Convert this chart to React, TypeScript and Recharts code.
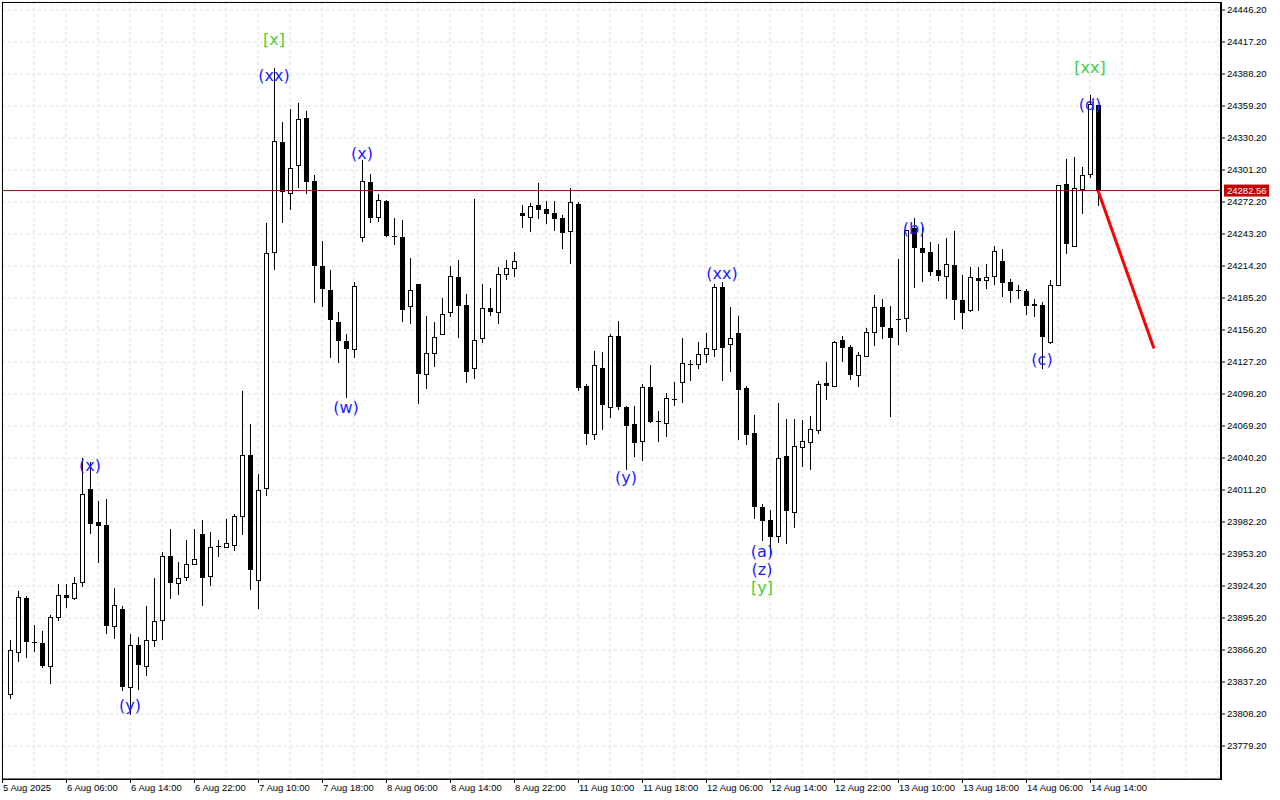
import React from "react";
import {
  ComposedChart,
  Bar,
  Line,
  Scatter,
  XAxis,
  YAxis,
  CartesianGrid,
  ReferenceLine,
} from "recharts";

// H1 candles, one slot per hour, first candle sits in slot 1
const opens = [
  23826.3, 23864.4, 23913.3, 23873.0, 23872.5, 23851.7, 23896.1, 23916.0, 23913.3, 23927.8,
  24012.1, 23982.2, 23979.5, 23888.0, 23903.4, 23832.7, 23870.7, 23851.7, 23875.3, 23893.4,
  23951.4, 23926.9, 23932.3, 23944.1, 23971.3, 23933.3, 23960.0, 23959.5, 23961.4, 23987.6,
  24042.9, 23929.6, 24013.0, 24226.9, 24327.0, 24280.4, 24305.7, 24348.3, 24291.2, 24214.2,
  24192.4, 24163.4, 24146.2, 24139.0, 24240.9, 24290.3, 24258.6, 24273.1, 24241.4, 24240.5,
  24178.0, 24197.9, 24116.3, 24135.4, 24152.6, 24172.5, 24204.2, 24178.9, 24121.8, 24149.0,
  24176.1, 24172.5, 24207.0, 24212.4, 24262.2, 24258.6, 24269.5, 24265.9, 24262.2, 24257.7,
  24245.9, 24270.4, 24105.5, 24062.0, 24121.8, 24086.4, 24150.8, 24086.4, 24071.0, 24055.6,
  24104.5, 24073.3, 24071.9, 24094.1, 24109.1, 24125.4, 24125.4, 24134.5, 24139.0, 24195.2,
  24143.5, 24153.5, 24103.6, 24062.9, 23995.8, 23984.0, 23969.5, 24042.0, 23991.3, 24050.2,
  24054.7, 24065.6, 24108.2, 24105.5, 24147.1, 24140.8, 24115.4, 24132.6, 24154.4, 24177.0,
  24158.0, 24166.2, 24167.1, 24248.6, 24230.5, 24226.9, 24210.6, 24205.1, 24215.1, 24183.4,
  24174.3, 24203.3, 24201.5, 24205.1, 24218.7, 24199.7, 24192.4, 24191.5, 24179.8, 24178.9,
  24145.3, 24197.0, 24288.5, 24232.3, 24284.0, 24297.6, 24360.1,
];
const highs = [
  23875.3, 23919.7, 23915.1, 23888.9, 23883.4, 23897.9, 23926.0, 23926.0, 23932.3, 24040.2,
  24036.6, 24001.2, 24003.0, 23922.4, 23906.1, 23880.7, 23878.0, 23906.1, 23931.5, 23955.0,
  23975.9, 23945.9, 23965.9, 23975.9, 23984.0, 23973.1, 23965.9, 23984.9, 23989.5, 24100.9,
  24071.0, 24025.7, 24253.2, 24393.6, 24344.7, 24356.8, 24362.3, 24354.7, 24296.7, 24236.9,
  24210.6, 24172.5, 24152.6, 24199.7, 24310.3, 24297.6, 24279.4, 24274.0, 24257.7, 24255.9,
  24221.4, 24198.2, 24168.9, 24163.4, 24185.2, 24214.2, 24219.6, 24188.8, 24274.9, 24197.9,
  24194.3, 24213.3, 24219.6, 24226.9, 24269.5, 24271.3, 24289.4, 24273.1, 24273.1, 24260.4,
  24284.9, 24272.2, 24107.3, 24137.2, 24136.3, 24152.6, 24164.4, 24087.3, 24087.3, 24107.3,
  24124.5, 24082.8, 24099.1, 24109.1, 24149.0, 24129.0, 24145.3, 24153.5, 24197.9, 24199.7,
  24177.0, 24168.9, 24105.5, 24079.2, 23998.5, 23993.1, 24090.0, 24075.5, 24075.5, 24074.6,
  24078.3, 24110.0, 24127.2, 24146.2, 24150.8, 24142.6, 24136.3, 24158.0, 24187.9, 24184.3,
  24178.0, 24220.5, 24247.2, 24257.7, 24249.5, 24236.0, 24234.1, 24239.6, 24245.9, 24206.0,
  24213.3, 24213.3, 24216.0, 24232.3, 24229.6, 24202.4, 24197.0, 24193.4, 24184.3, 24181.6,
  24201.5, 24287.9, 24311.2, 24313.0, 24303.9, 24369.2, 24360.4,
];
const lows = [
  23822.7, 23856.2, 23859.9, 23865.3, 23851.0, 23836.3, 23893.4, 23905.2, 23912.4, 23924.2,
  23972.2, 23945.9, 23881.6, 23877.1, 23830.0, 23808.2, 23830.9, 23843.5, 23869.8, 23876.2,
  23913.3, 23917.0, 23929.6, 23943.8, 23907.0, 23925.1, 23951.4, 23959.3, 23956.8, 23971.3,
  23921.5, 23904.3, 24006.7, 24211.5, 24254.5, 24265.9, 24285.8, 24280.4, 24182.0, 24178.0,
  24131.7, 24127.2, 24095.5, 24131.7, 24236.9, 24254.1, 24255.0, 24241.0, 24234.1, 24164.4,
  24162.5, 24090.0, 24103.6, 24123.6, 24152.3, 24168.9, 24149.9, 24109.1, 24112.7, 24145.3,
  24169.8, 24162.5, 24202.4, 24205.1, 24249.5, 24245.9, 24257.7, 24253.2, 24246.8, 24230.5,
  24216.9, 24101.8, 24052.9, 24057.4, 24066.5, 24077.4, 24084.6, 24030.2, 24042.0, 24038.4,
  24072.5, 24055.6, 24060.1, 24088.2, 24091.0, 24110.9, 24121.8, 24127.2, 24132.6, 24110.9,
  24119.0, 24057.4, 24052.9, 23985.8, 23965.9, 23951.4, 23964.1, 23963.2, 23977.7, 24033.0,
  24030.2, 24062.9, 24093.7, 24105.2, 24128.1, 24111.8, 24105.5, 24132.3, 24142.6, 24149.0,
  24078.3, 24143.5, 24155.3, 24195.2, 24200.6, 24206.0, 24201.5, 24185.2, 24166.2, 24158.0,
  24173.4, 24174.3, 24194.3, 24197.9, 24187.0, 24181.6, 24185.2, 24170.7, 24168.9, 24121.8,
  24144.4, 24196.7, 24226.0, 24232.0, 24262.2, 24294.9, 24269.5,
];
const closes = [
  23866.2, 23914.2, 23873.5, 23872.1, 23851.7, 23896.1, 23916.0, 23913.3, 23926.9, 24007.6,
  23980.4, 23979.0, 23888.4, 23907.0, 23832.7, 23870.7, 23852.6, 23875.3, 23892.5, 23951.4,
  23926.9, 23931.5, 23944.1, 23948.7, 23931.5, 23959.5, 23959.1, 23963.2, 23987.6, 24042.9,
  23938.7, 24011.2, 24226.0, 24327.5, 24281.3, 24303.0, 24347.4, 24290.3, 24214.2, 24193.4,
  24165.3, 24146.2, 24139.0, 24196.1, 24290.8, 24257.7, 24274.0, 24241.4, 24240.5, 24174.3,
  24192.4, 24116.3, 24135.4, 24149.9, 24170.7, 24205.1, 24178.0, 24118.1, 24147.1, 24176.1,
  24172.5, 24207.0, 24212.4, 24218.7, 24259.5, 24268.6, 24264.9, 24261.3, 24256.8, 24244.1,
  24272.2, 24103.6, 24062.0, 24124.5, 24088.2, 24150.8, 24086.4, 24069.2, 24053.8, 24104.5,
  24072.8, 24072.4, 24094.6, 24093.2, 24126.3, 24124.5, 24134.5, 24139.9, 24195.2, 24139.9,
  24149.0, 24101.8, 24061.0, 23995.8, 23983.1, 23968.6, 24040.2, 23992.2, 24051.1, 24055.6,
  24066.5, 24107.3, 24105.5, 24145.3, 24139.9, 24115.4, 24133.5, 24154.4, 24177.0, 24158.9,
  24149.0, 24165.3, 24246.8, 24230.5, 24226.0, 24208.8, 24205.1, 24216.0, 24183.4, 24171.6,
  24204.2, 24200.6, 24204.2, 24227.8, 24198.8, 24191.5, 24192.0, 24178.0, 24178.0, 24149.9,
  24197.0, 24287.6, 24234.1, 24284.9, 24296.7, 24361.0, 24282.56,
];

// one label every 8 slots, starting at slot 0
const timeLabels = [
  "5 Aug 2025", "6 Aug 06:00", "6 Aug 14:00", "6 Aug 22:00", "7 Aug 10:00",
  "7 Aug 18:00", "8 Aug 06:00", "8 Aug 14:00", "8 Aug 22:00", "11 Aug 10:00",
  "11 Aug 18:00", "12 Aug 06:00", "12 Aug 14:00", "12 Aug 22:00", "13 Aug 10:00",
  "13 Aug 18:00", "14 Aug 06:00", "14 Aug 14:00",
];

const priceTicks = [
  23779.2, 23808.2, 23837.2, 23866.2, 23895.2, 23924.2, 23953.2, 23982.2,
  24011.2, 24040.2, 24069.2, 24098.2, 24127.2, 24156.2, 24185.2, 24214.2,
  24243.2, 24272.2, 24301.2, 24330.2, 24359.2, 24388.2, 24417.2, 24446.2,
];

const BLUE = "#1c1cff";
const GREEN = "#3fcf3f";
const waveLabels = [
  { i: -1.1, p: 23804.5, text: "(y)", color: BLUE },
  { i: 11, p: 24033.0, text: "(x)", color: BLUE },
  { i: 16, p: 23815.5, text: "(y)", color: BLUE },
  { i: 34, p: 24419.9, text: "[x]", color: GREEN },
  { i: 34, p: 24386.4, text: "(xx)", color: BLUE },
  { i: 43, p: 24086.4, text: "(w)", color: BLUE },
  { i: 45, p: 24316.6, text: "(x)", color: BLUE },
  { i: 78, p: 24022.1, text: "(y)", color: BLUE },
  { i: 90, p: 24207.0, text: "(xx)", color: BLUE },
  { i: 95, p: 23955.9, text: "(a)", color: BLUE },
  { i: 95, p: 23939.6, text: "(z)", color: BLUE },
  { i: 95, p: 23922.4, text: "[y]", color: GREEN },
  { i: 114, p: 24248.6, text: "(b)", color: BLUE },
  { i: 130, p: 24129.9, text: "(c)", color: BLUE },
  { i: 136, p: 24361.0, text: "(d)", color: BLUE },
  { i: 136, p: 24394.5, text: "[xx]", color: GREEN },
];

// forecast arrow
const projSlots = [137, 144];
const projPrices = [24282.56, 24139.4];

const candles = opens.map((o, k) => ({
  i: k + 1,
  o,
  h: highs[k],
  l: lows[k],
  c: closes[k],
  range: [lows[k], highs[k]],
}));
const projection = projSlots.map((i, k) => ({ i, p: projPrices[k] }));
const lastPrice = closes[closes.length - 1];
const xTicks = Array.from({ length: 39 }, (_, k) => k * 4);

const AXIS_FONT = "'Liberation Sans', Arial, sans-serif";

function Candle(props: any) {
  const { x, y, width, height, payload } = props;
  if (x == null || !payload) return null;
  const top = Math.min(y, y + height);
  const bot = Math.max(y, y + height);
  const { o, h, l, c } = payload;
  const span = h - l;
  const toPx = (v: number) => (span > 0 ? top + ((h - v) / span) * (bot - top) : top);
  const cx = Math.round(x + width / 2);
  const yo = Math.round(toPx(o));
  const yc = Math.round(toPx(c));
  const bTop = Math.min(yo, yc);
  const bBot = Math.max(yo, yc);
  return (
    <g>
      <line
        x1={cx + 0.5}
        x2={cx + 0.5}
        y1={Math.round(top)}
        y2={Math.round(bot) + 1}
        stroke="#000"
        strokeWidth={1}
      />
      {c >= o ? (
        <rect x={cx - 1.5} y={bTop + 0.5} width={4} height={bBot - bTop} fill="#fff" stroke="#000" strokeWidth={1} />
      ) : (
        <rect x={cx - 2} y={bTop} width={5} height={Math.max(bBot - bTop, 1)} fill="#000" />
      )}
    </g>
  );
}

function WaveLabel(props: any) {
  const { cx, cy, payload } = props;
  if (cx == null || !payload) return null;
  return (
    <text
      x={cx}
      y={cy}
      textAnchor="middle"
      dominantBaseline="central"
      fill={payload.color}
      fontSize={16}
      fontFamily="'DejaVu Sans', sans-serif"
    >
      {payload.text}
    </text>
  );
}

function TimeTick(props: any) {
  const { x, y, payload } = props;
  const v = payload.value;
  if (v % 8 !== 0) return null;
  const label = timeLabels[v / 8];
  if (!label) return null;
  return (
    <g>
      <line x1={Math.round(x) + 0.5} x2={Math.round(x) + 0.5} y1={y} y2={y + 4} stroke="#000" />
      <text x={x + 1} y={y + 12} fontSize={9.5} fontFamily={AXIS_FONT} fill="#000" textAnchor="start">
        {label}
      </text>
    </g>
  );
}

function PriceTag(props: any) {
  const vb = props.viewBox || {};
  const left = vb.x + vb.width + 3;
  const mid = vb.y;
  return (
    <g>
      <rect x={left} y={mid - 6} width={45} height={12} fill="#c40000" />
      <text
        x={left + 3}
        y={mid}
        dominantBaseline="central"
        fontSize={9.5}
        fontFamily={AXIS_FONT}
        fill="#fff"
      >
        {lastPrice.toFixed(2)}
      </text>
    </g>
  );
}

export default function App() {
  return (
    <div
      style={{
        position: "absolute",
        left: 0,
        top: 0,
        width: 1280,
        height: 800,
        background: "#fff",
        overflow: "hidden",
      }}
    >
      <ComposedChart
        width={1280}
        height={800}
        data={candles}
        margin={{ top: 2, right: 0, bottom: 0, left: 2 }}
      >
        <CartesianGrid stroke="#dedede" strokeDasharray="3 3" />
        <XAxis
          type="number"
          dataKey="i"
          domain={[0, 152.375]}
          ticks={xTicks}
          allowDataOverflow
          height={21}
          tickSize={0}
          tickMargin={0}
          tickLine={false}
          axisLine={{ stroke: "#000" }}
          tick={<TimeTick />}
          interval={0}
        />
        <YAxis
          type="number"
          orientation="right"
          domain={[23749.29, 24453.45]}
          ticks={priceTicks}
          allowDataOverflow
          width={59}
          interval={0}
          tickSize={4}
          tickMargin={2}
          tickLine={{ stroke: "#000" }}
          axisLine={{ stroke: "#000", strokeWidth: 2 }}
          tickFormatter={(v: number) => v.toFixed(2)}
          tick={{ fontSize: 9.5, fill: "#000", fontFamily: AXIS_FONT }}
        />
        <ReferenceLine y={lastPrice} stroke="#8e1414" strokeWidth={1} label={<PriceTag />} />
        <Bar dataKey="range" barSize={5} shape={<Candle />} isAnimationActive={false} />
        <Line
          data={projection}
          dataKey="p"
          stroke="#ff0000"
          strokeWidth={3}
          dot={false}
          activeDot={false}
          isAnimationActive={false}
        />
        <Scatter data={waveLabels} dataKey="p" shape={<WaveLabel />} isAnimationActive={false} />
      </ComposedChart>
      <div
        style={{
          position: "absolute",
          left: 2,
          top: 2,
          width: 1220,
          height: 778,
          border: "1px solid #000",
          boxSizing: "border-box",
          pointerEvents: "none",
        }}
      />
    </div>
  );
}
